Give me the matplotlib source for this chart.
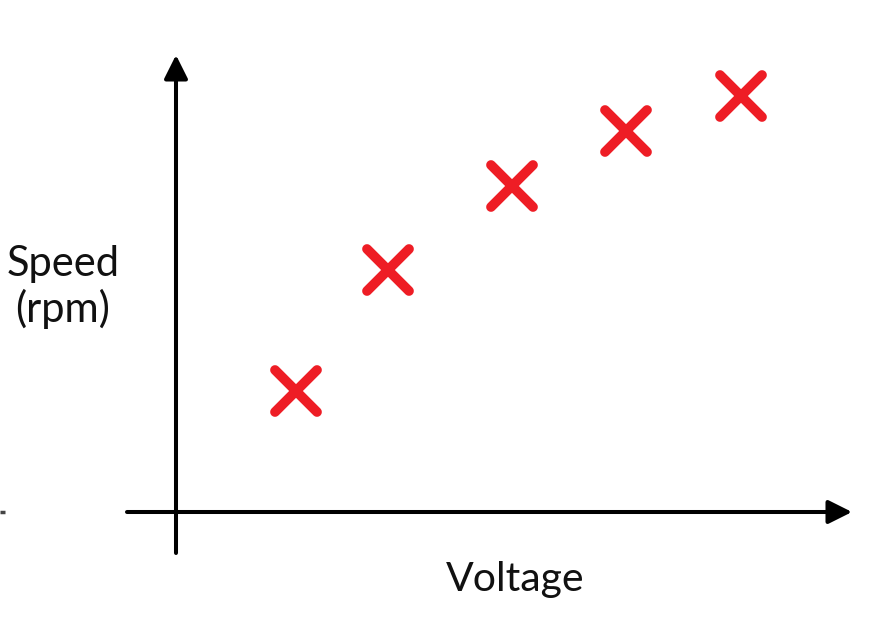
import matplotlib
matplotlib.use("Agg")
import matplotlib.pyplot as plt
from matplotlib.markers import MarkerStyle

# Data (arbitrary units)
voltage = [1.20, 2.12, 3.36, 4.50, 5.65]
speed = [1.21, 2.42, 3.26, 3.81, 4.16]
x_label = "Voltage"
y_label = "Speed\n(rpm)"

plt.rcParams['font.family'] = ['Lato', 'DejaVu Sans']

fig = plt.figure(figsize=(8.75, 6.33), dpi=100)
ax = fig.add_axes([0, 0, 1, 1])
ax.set_xlim(-1.76, 6.99)
ax.set_ylim(-1.21, 5.12)
ax.axis('off')

arrow_style = "-|>,head_length=0.72,head_width=0.36"
# y axis
ax.annotate("", xy=(0, 4.57), xytext=(0, -0.41),
            arrowprops=dict(arrowstyle=arrow_style, mutation_scale=20,
                            lw=2.9, color='black', shrinkA=0, shrinkB=0))
# x axis
ax.annotate("", xy=(6.76, 0), xytext=(-0.49, 0),
            arrowprops=dict(arrowstyle=arrow_style, mutation_scale=20,
                            lw=2.9, color='black', shrinkA=0, shrinkB=0))
# small stray tick on the far left
ax.plot([-1.76, -1.71], [0, 0], color='#444444', lw=2.5, solid_capstyle='butt')

mk = MarkerStyle('x', capstyle='round')
ax.plot(voltage, speed, linestyle='none', marker=mk, markersize=30,
        markeredgewidth=7, color='#ee1d25')

ax.text(-1.13, 2.25, y_label, ha='center', va='center', fontsize=30,
        linespacing=1.2, color='#111111')
ax.text(3.39, -0.68, x_label, ha='center', va='center', fontsize=29.5,
        color='#111111')

fig.savefig("out.png", dpi=100)
